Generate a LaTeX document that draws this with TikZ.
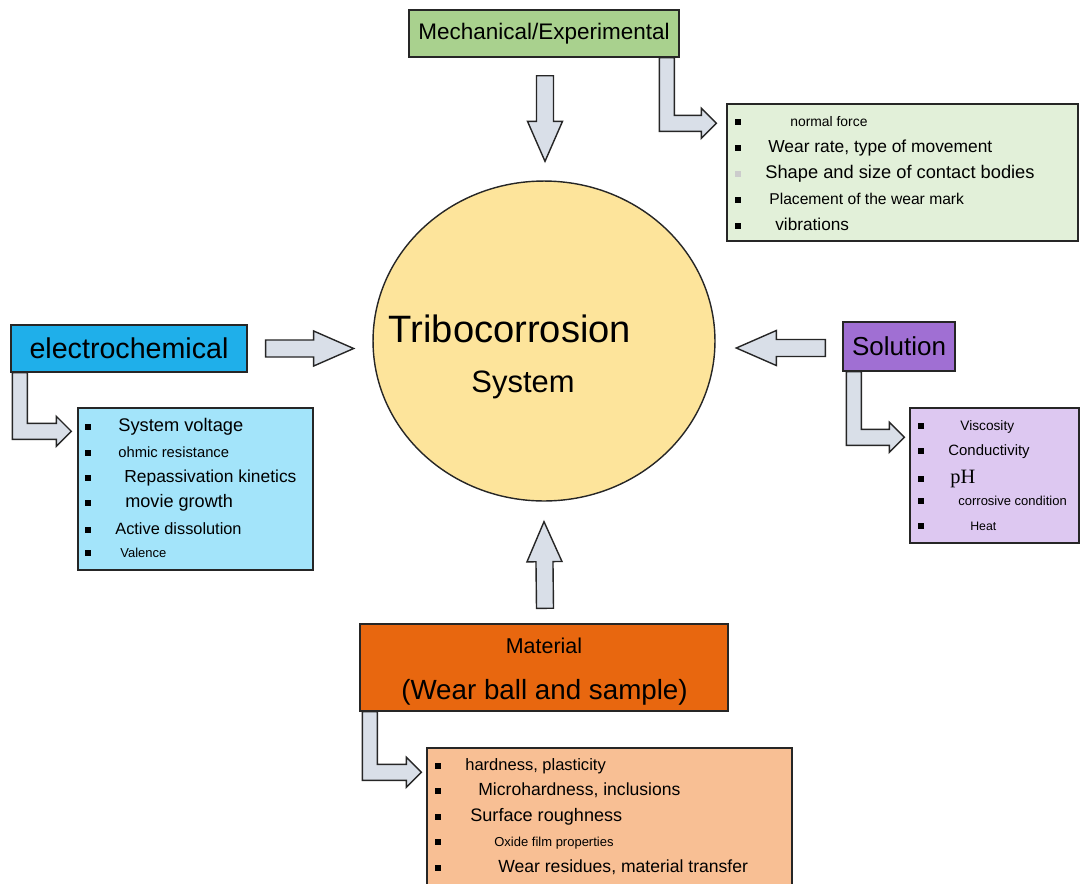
\documentclass[tikz,border=0pt]{standalone}
\usepackage{fontspec}
\setmainfont{Liberation Sans}
\newfontfamily\pHfont{Liberation Serif}
\usetikzlibrary{calc,shapes.geometric}

\definecolor{mechgreen}{HTML}{A9D18E}
\definecolor{mechlight}{HTML}{E2F0D9}
\definecolor{elecblue}{HTML}{1FAFEA}
\definecolor{eleclight}{HTML}{A3E4FA}
\definecolor{solpurple}{HTML}{A06FD3}
\definecolor{sollight}{HTML}{DDC8F1}
\definecolor{matorange}{HTML}{E8670F}
\definecolor{matlight}{HTML}{F8BF94}
\definecolor{tribofill}{HTML}{FDE49B}
\definecolor{arrowfill}{HTML}{D9DFE8}

\newcommand{\fs}[1]{\fontsize{#1pt}{#1pt}\selectfont}

% straight block arrow from #1 to #2
\newcommand{\blockarrow}[2]{%
  \coordinate (h) at ($(#2)!0.8cm!(#1)$);
  \draw[arrowbody] ($(#1)!0.17cm!90:(#2)$) -- ($(h)!0.17cm!-90:(#1)$) -- ($(h)!0.35cm!-90:(#1)$) -- (#2)
    -- ($(h)!0.35cm!90:(#1)$) -- ($(h)!0.17cm!90:(#1)$) -- ($(#1)!0.17cm!-90:(#2)$) -- cycle;}

% bent block arrow: down out of #1, right into #2
\newcommand{\elbowarrow}[4]{%
  \coordinate (es) at ($(#1.south west)+(#3,0)$);
  \coordinate (et) at ($(#2.north west)+(#4)$);
  \draw[arrowbody] (es) -- ($(es|-et)+(0,8)$) -- ($(et)+(-15,8)$) -- ($(et)+(-15,15)$) -- (et)
    -- ($(et)+(-15,-15)$) -- ($(et)+(-15,-8)$) -- ($(es|-et)+(15,-8)$) -- ($(es)+(15,0)$) -- cycle;}

\begin{document}
\begin{tikzpicture}[x=0.02cm,y=-0.02cm,
  box/.style={rectangle,draw=black!85,line width=0.8pt,inner sep=0pt},
  head/.style={box,font=\fs{12.8}},
  bul/.style={rectangle,fill=black,minimum width=0.11cm,minimum height=0.12cm,inner sep=0pt},
  itemtext/.style={anchor=mid west,inner sep=0pt},
  arrowbody/.style={fill=arrowfill,draw=black!85,line width=0.8pt,line join=miter}]

\clip (0,0) rectangle (1081,883);
\fill[white] (0,0) rectangle (1081,883);

% centre
\node[ellipse,draw=black!85,line width=0.8pt,fill=tribofill,minimum width=6.84cm,minimum height=6.4cm,inner sep=0pt] (tribo) at (544,341) {};
\node[anchor=base,font=\fs{21.7}] (tword) at (510,342) {Tribocorrosion};
\node[anchor=base,font=\fs{17.6}] (sword) at (523,392) {System};

% headers
\node[head,fill=mechgreen,minimum width=5.4cm,minimum height=0.94cm] (mech) at (544,33.5) {Mechanical/Experimental};
\node[head,fill=elecblue,minimum width=4.72cm,minimum height=0.94cm,font=\fs{16.3}] (elec) at (129,348.5) {electrochemical};
\node[head,fill=solpurple,minimum width=2.24cm,minimum height=0.98cm,font=\fs{14.8}] (sol) at (899,346.5) {Solution};
\node[head,fill=matorange,minimum width=7.36cm,minimum height=1.74cm] (mat) at (544,667.5) {};
\node[anchor=base,font=\fs{12.2}] (matword) at (544,653) {Material};
\node[anchor=base,font=\fs{15.8}] (ballword) at (544.5,699) {(Wear ball and sample)};

% lists
\node[box,fill=mechlight,minimum width=7.02cm,minimum height=2.74cm] (mlist) at (902.5,172.5) {};
\node[box,fill=eleclight,minimum width=4.7cm,minimum height=3.24cm] (elist) at (195.5,489) {};
\node[box,fill=sollight,minimum width=3.38cm,minimum height=2.7cm] (slist) at (994.5,475.5) {};
\node[box,fill=matlight,minimum width=7.3cm,minimum height=3cm] (matlist) at (609.5,823) {};

\foreach \py/\tx/\sz/\bc/\txt [count=\i] in {122/790/7.9/black/normal force,
    148/768/9.9/black/{Wear rate, type of movement}, 174/765/10.4/black!20/Shape and size of contact bodies,
    200/769/8.9/black/Placement of the wear mark, 226/775/9.8/black/vibrations}{
  \node[bul,fill=\bc] (mb\i) at (738,\py) {};
  \node[itemtext,font=\fs{\sz}] (mt\i) at (\tx,\py) {\txt};
}
\foreach \py/\tx/\sz/\txt [count=\i] in {427/118/10.4/System voltage, 453/118/8.4/ohmic resistance,
    478/124/9.9/Repassivation kinetics, 503/125/10.3/movie growth, 530/115/9.3/Active dissolution,
    553/120/7.4/Valence}{
  \node[bul] (eb\i) at (88,\py) {};
  \node[itemtext,font=\fs{\sz}] (et\i) at (\tx,\py) {\txt};
}
\foreach \py/\tx/\sz/\txt [count=\i] in {426/960/7.8/Viscosity, 451/948/8.5/Conductivity,
    479/950/11.6/{\pHfont pH}, 501/958/7.4/corrosive condition, 526/970/7/Heat}{
  \node[bul] (sb\i) at (921,\py) {};
  \node[itemtext,font=\fs{\sz}] (st\i) at (\tx,\py) {\txt};
}
\foreach \py/\tx/\sz/\txt [count=\i] in {766/465/9.4/{hardness, plasticity}, 791/478/10/{Microhardness, inclusions},
    817/470/10.3/Surface roughness, 842/494/7.4/Oxide film properties,
    868/498/10/{Wear residues, material transfer}}{
  \node[bul] (ab\i) at (438,\py) {};
  \node[itemtext,font=\fs{\sz}] (at\i) at (\tx,\py) {\txt};
}

% arrows into the centre
\coordinate (mechA) at ($(mech.south)+(1,18)$);
\coordinate (mechB) at ($(tribo.north)+(1,-19)$);
\coordinate (elecA) at ($(elec.east)+(18,0)$);
\coordinate (elecB) at ($(elecA)+(88,0)$);
\coordinate (solA) at ($(sol.west)+(-17,1.5)$);
\coordinate (solB) at ($(solA)+(-89,0)$);
\coordinate (matA) at ($(mat.north)+(1,-15)$);
\coordinate (matB) at ($(tribo.south)+(0,20)$);
\blockarrow{mechA}{mechB}
\blockarrow{elecA}{elecB}
\blockarrow{solA}{solB}
\blockarrow{matA}{matB}

% arrows into the lists
\elbowarrow{mech}{mlist}{251}{-10,20}
\elbowarrow{elec}{elist}{2}{-6,24}
\elbowarrow{sol}{slist}{4}{-5,30}
\elbowarrow{mat}{matlist}{3}{-5,25}

\end{tikzpicture}
\end{document}
